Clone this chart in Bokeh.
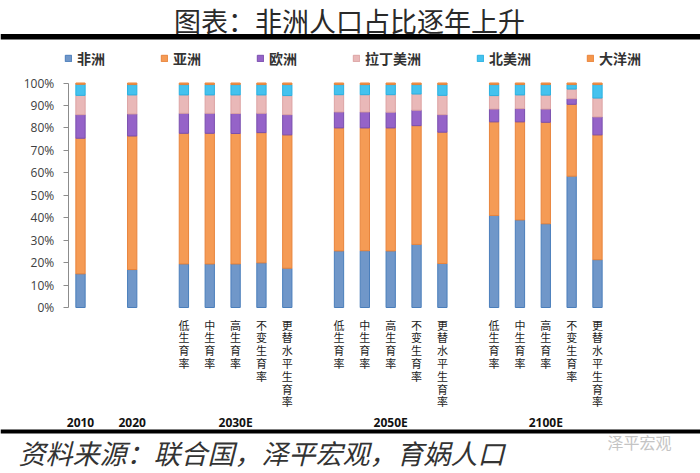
from bokeh.plotting import figure
from bokeh.models import (Range1d, FixedTicker, PrintfTickFormatter, Legend, LegendItem,
                          LinearAxis, Span, ColumnDataSource)
from bokeh.core.properties import value
from bokeh.embed import file_html
from bokeh.resources import INLINE

# ---------------- data ----------------
title_text = "图表：非洲人口占比逐年上升"
source_text = "资料来源：联合国，泽平宏观，育娲人口"
regions = ["非洲", "亚洲", "欧洲", "拉丁美洲", "北美洲", "大洋洲"]
periods = ["2010", "2020", "2030E", "2050E", "2100E"]
scenarios = ["低生育率", "中生育率", "高生育率", "不变生育率", "更替水平生育率"]

# shares in %; order: 2010, 2020, then the 5 scenarios for 2030E, 2050E, 2100E
africa    = [15.0, 16.9, 19.4, 19.4, 19.4, 19.9, 17.5, 25.2, 25.3, 25.2, 28.1, 19.6, 41.0, 39.0, 37.3, 58.5, 21.3]
asia      = [60.4, 59.5, 58.2, 58.2, 58.1, 58.0, 59.4, 54.8, 54.7, 54.8, 52.9, 58.5, 41.7, 43.7, 45.2, 32.0, 55.6]
europe    = [10.5,  9.8,  8.9,  8.9,  8.9,  8.6,  9.0,  7.1,  7.1,  7.0,  6.9,  7.8,  5.7,  5.9,  5.9,  2.5,  8.0]
latam     = [ 8.6,  8.5,  8.2,  8.2,  8.3,  8.2,  8.5,  7.7,  7.7,  7.8,  7.2,  8.6,  6.0,  6.1,  6.2,  4.3,  8.4]
n_america = [ 4.9,  4.6,  4.6,  4.6,  4.6,  4.6,  4.9,  4.5,  4.5,  4.5,  4.2,  4.8,  4.9,  4.6,  4.7,  2.0,  6.0]
oceania   = [ 0.6,  0.7,  0.7,  0.7,  0.7,  0.7,  0.7,  0.7,  0.7,  0.7,  0.7,  0.7,  0.7,  0.7,  0.7,  0.7,  0.7]
y_ticks = [0, 10, 20, 30, 40, 50, 60, 70, 80, 90, 100]

# ---------------- styles ----------------
fill_colors = ["#7097C9", "#F59B55", "#9563C8", "#E9B8B8", "#45C2EE", "#F5964A"]
line_colors = ["#4A7EBB", "#E8843C", "#7A4FAE", "#DCA3A3", "#2AB1E0", "#E8843C"]
CJK = "Noto Sans CJK SC"

W, H = 700, 473
PXU = 25.85      # px per slot
PYU = 2.245      # px per percent

def xpx(rx):     # reference pixel x -> data x
    return (rx - 80) / PXU

def ypx(ry):     # reference pixel y -> data y
    return (307 - ry) / PYU

# slot positions: single bars for 2010/2020, groups of 5 for projections
xs, group_centers, bar_labels = [], [], []
pos = 0
for per in periods:
    if per in ("2010", "2020"):
        xs.append(pos); group_centers.append(pos); bar_labels.append("")
        pos += 2
    else:
        g = []
        for sc in scenarios:
            xs.append(pos); g.append(pos); bar_labels.append(sc)
            pos += 1
        group_centers.append(sum(g) / len(g))
        pos += 1

src = ColumnDataSource(dict(x=xs, 非洲=africa, 亚洲=asia, 欧洲=europe,
                            拉丁美洲=latam, 北美洲=n_america, 大洋洲=oceania))

p = figure(width=W, height=H, output_backend="svg", toolbar_location=None,
           x_range=Range1d(xpx(0), xpx(W)), y_range=Range1d(ypx(H), ypx(0)),
           x_axis_type=None, y_axis_type=None,
           min_border_left=0, min_border_right=0, min_border_top=0, min_border_bottom=0)
p.outline_line_color = None
p.background_fill_color = "white"
p.border_fill_color = "white"

rends = p.vbar_stack(regions, x="x", width=0.36, source=src,
                     fill_color=fill_colors, line_color=line_colors, line_width=1)

# y axis inside the frame
yax = LinearAxis(fixed_location=xpx(67.7), ticker=FixedTicker(ticks=y_ticks),
                 formatter=PrintfTickFormatter(format="%d%%"), bounds=(0, 100),
                 axis_line_color="#8C8C8C", major_tick_line_color="#8C8C8C",
                 major_tick_out=5, major_tick_in=0, minor_tick_line_color=None,
                 major_label_standoff=9, major_label_text_font="Open Sans",
                 major_label_text_font_size="12px", major_label_text_color="#404040")
p.add_layout(yax, "left")

# legend
legend = Legend(items=[LegendItem(label=r, renderers=[rd]) for r, rd in zip(regions, rends)],
                orientation="horizontal", location=(64, 405), padding=0, margin=0,
                spacing=55, glyph_width=8, glyph_height=8, label_standoff=5,
                label_text_font=CJK, label_text_font_size="14px", label_text_font_style="bold",
                label_text_color="#333333", background_fill_alpha=0, border_line_color=None)
p.add_layout(legend)

# title and rules
p.text(x=[xpx(349)], y=[ypx(20)], text=[title_text], text_align="center", text_baseline="middle",
       text_font=value(CJK), text_font_size="27px", text_color="#2A2A2A")
p.add_layout(Span(location=ypx(36.3), dimension="width", line_color="black", line_width=5.5))
p.add_layout(Span(location=ypx(431), dimension="width", line_color="black", line_width=4))

# scenario labels (vertical)
sc_x = [x for x, l in zip(xs, bar_labels) if l]
sc_t = ["\n".join(l) for l in bar_labels if l]
p.text(x=sc_x, y=[ypx(316)] * len(sc_x), text=sc_t, text_align="center", text_baseline="top",
       text_font=value(CJK), text_font_size="11px", text_line_height=0.8, text_color="#222222")

# period labels
p.text(x=group_centers, y=[ypx(422)] * len(group_centers), text=periods, text_align="center",
       text_baseline="middle", text_font=value("Open Sans"), text_font_size="12px",
       text_font_style="bold", text_color="#111111")

# source and watermark
p.text(x=[xpx(18)], y=[ypx(452)], text=[source_text], text_align="left", text_baseline="middle",
       text_font=value(CJK), text_font_size="27px", text_font_style="italic", text_color="#333333")
p.text(x=[xpx(607)], y=[ypx(441)], text=["泽平宏观"], text_align="left", text_baseline="middle",
       text_font=value(CJK), text_font_size="16px", text_color="#C4C4C4")

open("out.html", "w").write(file_html(p, INLINE))
